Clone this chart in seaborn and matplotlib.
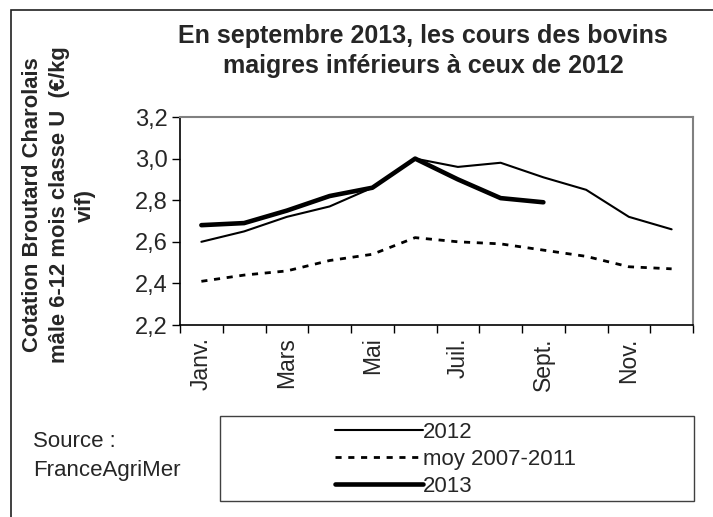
import numpy as np
import pandas as pd
import matplotlib
matplotlib.use("Agg")
import matplotlib.pyplot as plt
import seaborn as sns
from matplotlib.patches import Rectangle
from matplotlib.ticker import FuncFormatter

# Données (€/kg vif)
mois = ["Janv.", "Févr.", "Mars", "Avr.", "Mai", "Juin",
        "Juil.", "Août", "Sept.", "Oct.", "Nov.", "Déc."]
cours_2012 = [2.60, 2.65, 2.72, 2.77, 2.86, 3.00, 2.96, 2.98, 2.91, 2.85, 2.72, 2.66]
cours_moy = [2.41, 2.44, 2.46, 2.51, 2.54, 2.62, 2.60, 2.59, 2.56, 2.53, 2.48, 2.47]
cours_2013 = [2.68, 2.69, 2.75, 2.82, 2.86, 3.00, 2.90, 2.81, 2.79]
mois_affiches = ["Janv.", "Mars", "Mai", "Juil.", "Sept.", "Nov."]

titre = "En septembre 2013, les cours des bovins\nmaigres inférieurs à ceux de 2012"
label_y = "Cotation Broutard Charolais\nmâle 6-12 mois classe U  (€/kg\nvif)"
source = "Source :\nFranceAgriMer"

sns.set_style("white")
plt.rcParams["font.family"] = ["Liberation Sans", "DejaVu Sans"]

W, H = 713, 517
fig = plt.figure(figsize=(W / 100, H / 100), dpi=100)
ax = fig.add_axes([180 / W, 1 - 325 / H, (693 - 180) / W, (325 - 117) / H])

x = np.arange(len(mois))
df12 = pd.DataFrame({"x": x, "v": cours_2012})
dfm = pd.DataFrame({"x": x, "v": cours_moy})
df13 = pd.DataFrame({"x": x[:len(cours_2013)], "v": cours_2013})

sns.lineplot(data=df12, x="x", y="v", ax=ax, color="black", lw=1.5, label="2012")
sns.lineplot(data=dfm, x="x", y="v", ax=ax, color="black", lw=2.0,
             label="moy 2007-2011")
ax.lines[-1].set_dashes((2.2, 2.4))
sns.lineplot(data=df13, x="x", y="v", ax=ax, color="black", lw=3.3,
             label="2013", solid_capstyle="round")
handles, labels = ax.get_legend_handles_labels()
ax.get_legend().remove()

ax.set_xlim(-0.5, 11.5)
ax.set_ylim(2.2, 3.2)
ax.set_yticks(np.arange(2.2, 3.21, 0.2))
ax.yaxis.set_major_formatter(FuncFormatter(lambda v, p: f"{v:.1f}".replace(".", ",")))
ax.set_xticks([mois.index(m) for m in mois_affiches])
ax.set_xticklabels(mois_affiches, rotation=90, fontsize=16.5)
ax.set_xticks(np.arange(-0.5, 12, 1), minor=True)
ax.tick_params(axis="x", which="major", length=0, pad=9)
ax.tick_params(axis="x", which="minor", length=6, width=1, color="black",
               direction="out", bottom=True)
ax.tick_params(axis="y", length=6, width=1, color="black", direction="out",
               left=True, labelsize=17, pad=3)
ax.set_xlabel("")
ax.set_ylabel("")

for s in ["left", "bottom"]:
    ax.spines[s].set_color("black")
    ax.spines[s].set_linewidth(1.2)
for s in ["top", "right"]:
    ax.spines[s].set_color("#808080")
    ax.spines[s].set_linewidth(1.5)

fig.text(423 / W, 1 - 51 / H, titre, ha="center", va="center",
         fontsize=18, fontweight="bold", linespacing=1.35)
fig.text(59 / W, 1 - 205 / H, label_y, ha="center", va="center",
         rotation=90, multialignment="center", fontsize=15.8,
         fontweight="bold", linespacing=1.35)
fig.text(33 / W, 1 - 456 / H, source, ha="left", va="center",
         fontsize=16, linespacing=1.5)

# cadre de la légende
fig.patches.append(Rectangle((220 / W, 1 - 501 / H), (694 - 220) / W, 85 / H,
                             transform=fig.transFigure, fill=False,
                             edgecolor="#404040", lw=1))
fig.legend(handles, labels, loc="center left",
           bbox_to_anchor=(335 / W, 1 - 459 / H), frameon=False,
           borderpad=0, borderaxespad=0, handlelength=3.95,
           handletextpad=0.02, labelspacing=0.27, fontsize=16)

# bordure de la zone de graphique
fig.patches.append(Rectangle((11 / W, -0.2), 2, 1.2 - 10 / H,
                             transform=fig.transFigure, fill=False,
                             edgecolor="#202020", lw=1.2))

fig.savefig("out.png", dpi=100)
